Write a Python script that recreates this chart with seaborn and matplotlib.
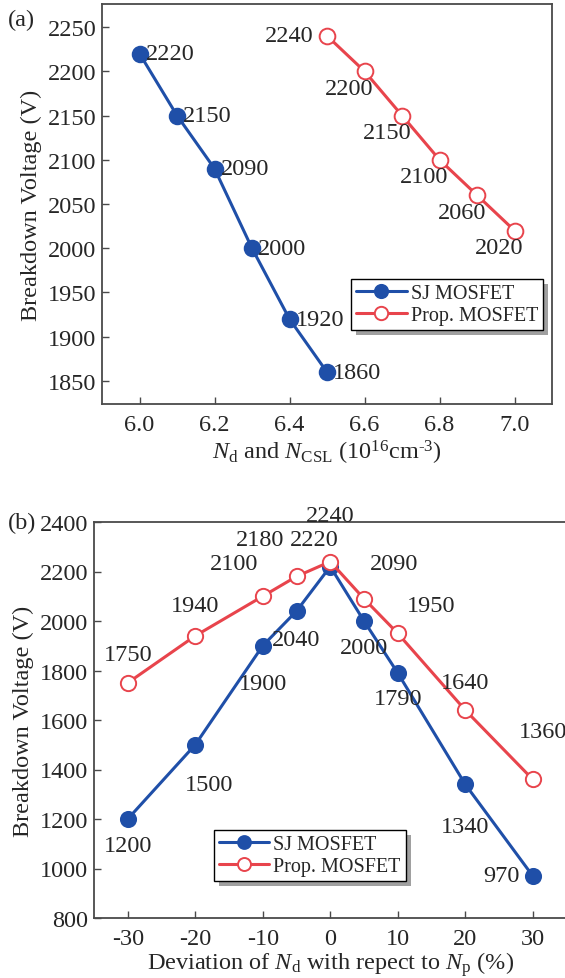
import matplotlib
matplotlib.use("Agg")
import matplotlib.pyplot as plt
import matplotlib.patches as mpatches
from matplotlib.transforms import IdentityTransform
import seaborn as sns
import pandas as pd

# ---- data ----
# (a) breakdown voltage vs. doping concentration
nd_sj = [6.0, 6.1, 6.2, 6.3, 6.4, 6.5]
bv_sj_a = [2220, 2150, 2090, 2000, 1920, 1860]
ncsl_prop = [6.5, 6.6, 6.7, 6.8, 6.9, 7.0]
bv_prop_a = [2240, 2200, 2150, 2100, 2060, 2020]

# (b) breakdown voltage vs. charge-imbalance deviation
deviation = [-30, -20, -10, -5, 0, 5, 10, 20, 30]
bv_sj_b = [1200, 1500, 1900, 2040, 2220, 2000, 1790, 1340, 970]
bv_prop_b = [1750, 1940, 2100, 2180, 2240, 2090, 1950, 1640, 1360]

series_names = ["SJ MOSFET", "Prop. MOSFET"]
xticks_a = [6.0, 6.2, 6.4, 6.6, 6.8, 7.0]
yticks_a = [1850, 1900, 1950, 2000, 2050, 2100, 2150, 2200, 2250]
xticks_b = [-30, -20, -10, 0, 10, 20, 30]
yticks_b = [800, 1000, 1200, 1400, 1600, 1800, 2000, 2200, 2400]

# label offsets in pixels (dx, dy, ha)
off_sj_a = [(6, 0, "left")] * 6
off_prop_a = [(-13, 0, "right")] + [(-15, -17, "center")] * 5
off_sj_b = [(0, -27, "center"), (14, -40, "center"), (0, -38, "center"),
            (0, -28, "center"), (-16, 27, "center"), (0, -27, "center"),
            (0, -26, "center"), (0, -42, "center"), (-13, 0, "right")]
off_prop_b = [(0, 28, "center"), (0, 30, "center"), (-29, 33, "center"),
              (-36, 37, "center"), (0, 46, "center"), (30, 35, "center"),
              (33, 28, "center"), (0, 28, "center"), (10, 48, "center")]

BLUE = "#1F4FA8"
RED = "#E8444C"
FS = 17.5

sns.set_style("ticks")
plt.rcParams["font.family"] = ["Liberation Serif", "DejaVu Serif"]
plt.rcParams["mathtext.fontset"] = "custom"
plt.rcParams["mathtext.rm"] = "Liberation Serif"
plt.rcParams["mathtext.it"] = "Liberation Serif:italic"
plt.rcParams["axes.unicode_minus"] = False
plt.rcParams["font.size"] = FS

fig = plt.figure(figsize=(5.65, 9.79), dpi=100)
W, H = 565, 979
ax_a = fig.add_axes([102 / W, 1 - 405 / H, 450 / W, 400 / H])
ax_b = fig.add_axes([94 / W, 1 - 919 / H, 472.5 / W, 396 / H])


def draw_series(ax, x, y, color, filled, name, ms):
    df = pd.DataFrame({"x": x, "y": y})
    sns.lineplot(data=df, x="x", y="y", ax=ax, color=color, linewidth=2.2,
                 marker="o", markersize=ms,
                 markerfacecolor=color if filled else "white",
                 markeredgecolor=color, markeredgewidth=1.3 if filled else 1.4,
                 label=name, sort=False, zorder=3)


def annotate(ax, x, y, offs):
    for xi, yi, (dx, dy, ha) in zip(x, y, offs):
        ax.annotate(f"{yi}", (xi, yi), xytext=(dx, dy),
                    textcoords="offset pixels", ha=ha, va="center",
                    fontsize=FS, zorder=4)


def style_axes(ax):
    for s in ax.spines.values():
        s.set_color("#4a4a4a")
        s.set_linewidth(1.3)
    ax.tick_params(axis="both", direction="in", length=5, width=1.0,
                   color="#4a4a4a", labelsize=FS, top=False, right=False)
    ax.tick_params(axis="x", pad=7)
    ax.tick_params(axis="y", pad=4)


def add_legend(ax, anchor, loc):
    leg = ax.legend(loc=loc, bbox_to_anchor=anchor, borderaxespad=0,
                    fontsize=14.5, frameon=True, fancybox=False,
                    edgecolor="black", framealpha=1, handlelength=2.5,
                    handletextpad=0.2, labelspacing=0.15, borderpad=0.25,
                    markerscale=0.85)
    leg.get_frame().set_linewidth(1.0)
    leg.set_zorder(6)
    return leg


# ---- panel (a) ----
draw_series(ax_a, nd_sj, bv_sj_a, BLUE, True, series_names[0], 11.3)
draw_series(ax_a, ncsl_prop, bv_prop_a, RED, False, series_names[1], 11.3)
annotate(ax_a, nd_sj, bv_sj_a, off_sj_a)
annotate(ax_a, ncsl_prop, bv_prop_a, off_prop_a)
ax_a.set_xlim(5.9, 7.1)
ax_a.set_ylim(1824, 2276)
ax_a.set_xticks(xticks_a)
ax_a.set_xticklabels([f"{t:.1f}" for t in xticks_a])
ax_a.set_yticks(yticks_a)
ax_a.set_xlabel(r"$N_\mathrm{d}$ and $N_\mathrm{CSL}$ (10$^{16}$cm$^{\text{-3}}$)",
                fontsize=FS, labelpad=2)
ax_a.set_ylabel("Breakdown Voltage (V)", fontsize=FS, labelpad=4)
style_axes(ax_a)
leg_a = add_legend(ax_a, (0.98, 0.3125), "upper right")

# ---- panel (b) ----
draw_series(ax_b, deviation, bv_sj_b, BLUE, True, series_names[0], 11)
draw_series(ax_b, deviation, bv_prop_b, RED, False, series_names[1], 11)
annotate(ax_b, deviation, bv_sj_b, off_sj_b)
annotate(ax_b, deviation, bv_prop_b, off_prop_b)
ax_b.set_xlim(-35, 35)
ax_b.set_ylim(800, 2400)
ax_b.set_xticks(xticks_b)
ax_b.set_yticks(yticks_b)
ax_b.set_xlabel(r"Deviation of $N_\mathrm{d}$ with repect to $N_\mathrm{p}$ (%)",
                fontsize=FS, labelpad=0)
ax_b.set_ylabel("Breakdown Voltage (V)", fontsize=FS, labelpad=4)
ax_b.spines["right"].set_visible(False)
style_axes(ax_b)
leg_b = add_legend(ax_b, (0.254, 0.222), "upper left")

fig.text(8 / W, 1 - 20 / H, "(a)", fontsize=FS, va="center", ha="left")
fig.text(8 / W, 1 - 523 / H, "(b)", fontsize=FS, va="center", ha="left")

# offset drop shadows behind the legend frames
fig.canvas.draw()
for ax, leg in ((ax_a, leg_a), (ax_b, leg_b)):
    bb = leg.get_frame().get_window_extent()
    shadow = mpatches.Rectangle((bb.x0 + 5, bb.y0 - 5), bb.width, bb.height,
                                transform=IdentityTransform(),
                                facecolor="#a0a0a0", edgecolor="none",
                                zorder=5.5, clip_on=False)
    ax.add_artist(shadow)

fig.savefig("out.png", dpi=100)
